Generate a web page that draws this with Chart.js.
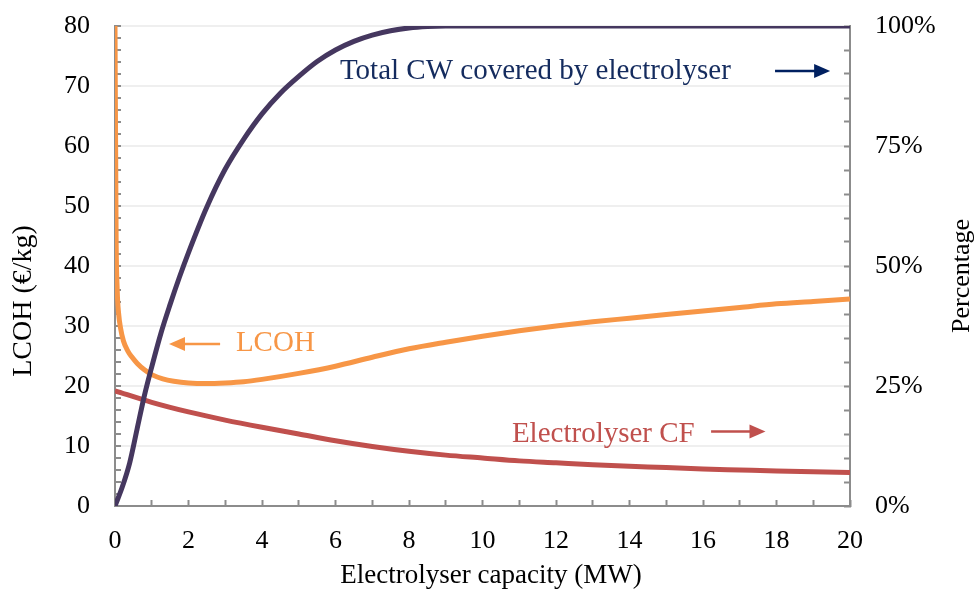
<!DOCTYPE html>
<html>
<head>
<meta charset="utf-8">
<script src="https://cdn.jsdelivr.net/npm/chart.js@4.4.1/dist/chart.umd.min.js"></script>
<style>
    html, body { margin: 0; padding: 0; background: #ffffff; }
    canvas { display: block; }
</style>
</head>
<body>
<canvas id="chart" width="980" height="592"></canvas>
<script>
// LCOH (left axis, €/kg)
const lcohCapacity = [0, 0.03, 0.06, 0.1, 0.15, 0.23, 0.35, 0.45, 0.6, 0.8, 1.0, 1.3, 1.6, 2, 2.5, 3, 3.5, 4, 5, 6, 7, 8, 9, 10, 11, 12, 13, 14, 15, 16, 17, 18, 19, 20];
const lcohValues = [80, 45, 36, 32, 29.7, 27.5, 25.8, 24.9, 23.8, 22.7, 21.9, 21.2, 20.8, 20.5, 20.4, 20.5, 20.7, 21.1, 22.1, 23.3, 24.8, 26.2, 27.3, 28.3, 29.2, 30.0, 30.7, 31.3, 31.9, 32.5, 33.1, 33.7, 34.1, 34.5];

// Total CW covered by electrolyser (right axis, %)
const cwCapacity = [0, 0.2, 0.4, 0.6, 0.8, 1, 1.25, 1.5, 1.75, 2, 2.5, 3, 3.5, 4, 4.5, 5, 5.5, 6, 6.5, 7, 7.5, 8, 8.5, 9, 20];
const cwShare = [0, 4, 9, 16, 23, 29, 36, 42, 47.6, 52.8, 62.3, 70.2, 76.4, 81.7, 86, 89.5, 92.6, 95, 96.8, 98.1, 99, 99.6, 99.9, 100, 100];

// Electrolyser capacity factor (right axis, %)
const cfCapacity = [0, 1, 2, 3, 4, 5, 6, 7, 8, 9, 10, 11, 12, 13, 14, 15, 16, 17, 18, 19, 20];
const cfShare = [24, 21.6, 19.6, 17.9, 16.4, 15.0, 13.6, 12.4, 11.4, 10.6, 10.0, 9.4, 9.0, 8.6, 8.3, 8.0, 7.7, 7.5, 7.3, 7.15, 7.0];

const SERIF = "'Liberation Serif', 'Times New Roman', serif";
const AXIS_GREY = '#8c8c8c';
const GRID_GREY = '#efefef';

const notes = [
    { text: 'Total CW covered by electrolyser', color: '#142b5e', arrowColor: '#002060',
      textX: 6.12, textY: 71.2, arrowFrom: 17.96, arrowTo: 19.46, arrowY: 72.5 },
    { text: 'LCOH', color: '#f79646', arrowColor: '#f79646',
      textX: 3.29, textY: 25.8, arrowFrom: 2.86, arrowTo: 1.47, arrowY: 27.0 },
    { text: 'Electrolyser CF', color: '#c0504d', arrowColor: '#c0504d',
      textX: 10.8, textY: 10.67, arrowFrom: 16.22, arrowTo: 17.7, arrowY: 12.4 }
];

const axisTitles = [
    { text: 'LCOH (€/kg)', x: 24, y: 301, size: 28, angle: -Math.PI / 2 },
    { text: 'Percentage', x: 962, y: 276, size: 26, angle: -Math.PI / 2 },
    { text: 'Electrolyser capacity (MW)', x: 491, y: 576, size: 27, angle: 0 }
];

function toPoints(xs, ys) {
    return xs.map((x, i) => ({ x, y: ys[i] }));
}

// keep the plot box where the original has it
function fixVertical(scale) {
    scale.paddingTop = 0;
    scale.paddingBottom = 0;
}

const notesPlugin = {
    id: 'notes',
    afterDatasetsDraw(chart) {
        const { ctx, scales: { x, y } } = chart;
        notes.forEach((n) => {
            ctx.save();
            ctx.font = `29px ${SERIF}`;
            ctx.fillStyle = n.color;
            ctx.textAlign = 'left';
            ctx.textBaseline = 'alphabetic';
            ctx.fillText(n.text, x.getPixelForValue(n.textX), y.getPixelForValue(n.textY));

            const x1 = x.getPixelForValue(n.arrowFrom);
            const x2 = x.getPixelForValue(n.arrowTo);
            const ay = y.getPixelForValue(n.arrowY);
            const dir = Math.sign(x2 - x1);
            ctx.strokeStyle = n.arrowColor;
            ctx.fillStyle = n.arrowColor;
            ctx.lineWidth = 2.5;
            ctx.beginPath();
            ctx.moveTo(x1, ay);
            ctx.lineTo(x2 - dir * 12, ay);
            ctx.stroke();
            ctx.beginPath();
            ctx.moveTo(x2, ay);
            ctx.lineTo(x2 - dir * 16, ay - 7);
            ctx.lineTo(x2 - dir * 16, ay + 7);
            ctx.closePath();
            ctx.fill();
            ctx.restore();
        });
    }
};

const axisTitlesPlugin = {
    id: 'axisTitles',
    afterDraw(chart) {
        const { ctx } = chart;
        axisTitles.forEach((t) => {
            ctx.save();
            ctx.translate(t.x, t.y);
            ctx.rotate(t.angle);
            ctx.font = `${t.size}px ${SERIF}`;
            ctx.fillStyle = '#000';
            ctx.textAlign = 'center';
            ctx.textBaseline = 'middle';
            ctx.fillText(t.text, 0, 0);
            ctx.restore();
        });
    }
};

Chart.defaults.font.family = SERIF;
Chart.defaults.color = '#000';

new Chart(document.getElementById('chart'), {
    type: 'line',
    data: {
        datasets: [
            {
                label: 'Total CW covered by electrolyser',
                data: toPoints(cwCapacity, cwShare),
                yAxisID: 'y1',
                borderColor: '#45375f',
                borderWidth: 5,
                pointRadius: 0,
                cubicInterpolationMode: 'monotone'
            },
            {
                label: 'LCOH',
                data: toPoints(lcohCapacity, lcohValues),
                yAxisID: 'y',
                borderColor: '#f79646',
                borderWidth: 5,
                pointRadius: 0,
                cubicInterpolationMode: 'monotone'
            },
            {
                label: 'Electrolyser CF',
                data: toPoints(cfCapacity, cfShare),
                yAxisID: 'y1',
                borderColor: '#c0504d',
                borderWidth: 5,
                pointRadius: 0,
                cubicInterpolationMode: 'monotone'
            }
        ]
    },
    options: {
        responsive: false,
        animation: false,
        events: [],
        layout: { padding: { top: 26, left: 0, right: 0, bottom: 0 } },
        plugins: {
            legend: { display: false },
            tooltip: { enabled: false }
        },
        scales: {
            x: {
                type: 'linear',
                min: 0,
                max: 20,
                afterFit: (scale) => {
                    scale.height = 86;
                    scale.paddingLeft = 0;
                    scale.paddingRight = 0;
                },
                ticks: {
                    stepSize: 1,
                    autoSkip: false,
                    maxRotation: 0,
                    padding: 26,
                    font: { size: 26 },
                    callback: (v) => (v % 2 === 0 ? v : '')
                },
                grid: { color: 'transparent', tickColor: AXIS_GREY, tickLength: -6, tickWidth: 2 },
                border: { color: AXIS_GREY, width: 2 }
            },
            y: {
                position: 'left',
                min: 0,
                max: 80,
                afterFit: (scale) => {
                    scale.width = 115;
                    fixVertical(scale);
                },
                ticks: {
                    stepSize: 2,
                    autoSkip: false,
                    padding: 31,
                    font: { size: 26 },
                    callback: (v) => (v % 10 === 0 ? v : '')
                },
                grid: {
                    color: (c) => (c.tick && c.tick.value % 10 === 0 ? GRID_GREY : 'transparent'),
                    lineWidth: 2,
                    tickColor: AXIS_GREY,
                    tickLength: -6,
                    tickWidth: 2
                },
                border: { color: AXIS_GREY, width: 2 }
            },
            y1: {
                position: 'right',
                min: 0,
                max: 100,
                afterFit: (scale) => {
                    scale.width = 130;
                    fixVertical(scale);
                },
                ticks: {
                    stepSize: 5,
                    autoSkip: false,
                    padding: 31,
                    font: { size: 26 },
                    callback: (v) => (v % 25 === 0 ? v + '%' : '')
                },
                grid: { drawOnChartArea: false, tickColor: AXIS_GREY, tickLength: -6, tickWidth: 2 },
                border: { color: AXIS_GREY, width: 2 }
            }
        }
    },
    plugins: [notesPlugin, axisTitlesPlugin]
});
</script>
</body>
</html>
